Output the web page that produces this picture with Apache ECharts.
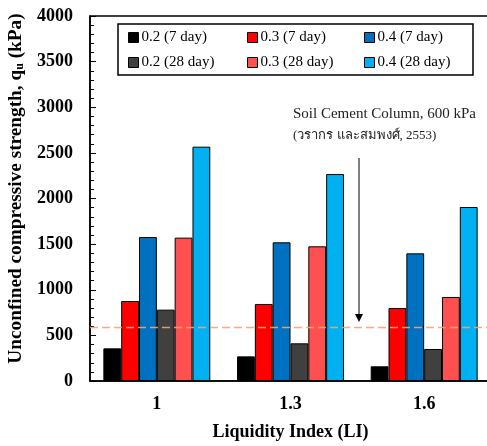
<!DOCTYPE html>
<html>
<head>
<meta charset="utf-8">
<script src="https://cdn.jsdelivr.net/npm/echarts@6/dist/echarts.min.js"></script>
<style>
html, body { margin: 0; padding: 0; background: #fff; }
#main { width: 487px; height: 446px; }
</style>
</head>
<body>
<div id="main"></div>
<script>
var categories = ['1', '1.3', '1.6'];
var c02d7 = [358, 270, 161];
var c03d7 = [877, 844, 800];
var c04d7 = [1578, 1520, 1399];
var c02d28 = [782, 413, 351];
var c03d28 = [1571, 1476, 921];
var c04d28 = [2568, 2268, 1907];
var refLine = 590;

var serif = '"Liberation Serif", "Times New Roman", serif';
var myChart = echarts.init(document.getElementById('main'));

function bar(name, data, color) {
    return {
        name: name,
        type: 'bar',
        data: data,
        barGap: 0,
        barCategoryGap: '20%',
        itemStyle: { color: color, borderColor: '#000', borderWidth: 1 }
    };
}

function legendCol(left, names) {
    return {
        orient: 'vertical',
        left: left,
        top: 30,
        padding: 0,
        itemGap: 10,
        itemWidth: 10,
        itemHeight: 10,
        icon: 'rect',
        selectedMode: false,
        textStyle: { fontFamily: serif, fontSize: 15, color: '#000', padding: [0, 0, 0, -2] },
        itemStyle: { borderColor: '#000', borderWidth: 1 },
        data: names
    };
}

var series = [
    bar('0.2 (7 day)', c02d7, '#000000'),
    bar('0.3 (7 day)', c03d7, '#FF0000'),
    bar('0.4 (7 day)', c04d7, '#0070C0'),
    bar('0.2 (28 day)', c02d28, '#404040'),
    bar('0.3 (28 day)', c03d28, '#FF5050'),
    bar('0.4 (28 day)', c04d28, '#00B0F0')
];
// reference line: soil cement column strength
series[5].markLine = {
    silent: true,
    symbol: 'none',
    z: 10,
    label: { show: false },
    lineStyle: { color: '#F5A46E', type: [8, 4], width: 1.3, opacity: 0.9 },
    emphasis: { disabled: true },
    data: [{ yAxis: refLine }]
};

var option = {
    animation: false,
    grid: {
        left: 90, top: 16, bottom: 65, right: -4,
        outerBoundsMode: 'none',
        containLabel: false,
        show: true, borderColor: '#000', borderWidth: 1.5, backgroundColor: 'transparent'
    },
    legend: [
        legendCol(128, ['0.2 (7 day)', '0.2 (28 day)']),
        legendCol(247, ['0.3 (7 day)', '0.3 (28 day)']),
        legendCol(364, ['0.4 (7 day)', '0.4 (28 day)'])
    ],
    xAxis: {
        type: 'category',
        data: categories,
        name: 'Liquidity Index (LI)',
        nameLocation: 'middle',
        nameGap: 42,
        nameTextStyle: { fontFamily: serif, fontWeight: 'bold', fontSize: 18, color: '#000' },
        axisLine: { lineStyle: { color: '#000', width: 1.5 } },
        axisTick: { inside: true, length: 5, lineStyle: { color: '#000' } },
        axisLabel: { margin: 14, fontFamily: serif, fontWeight: 'bold', fontSize: 18, color: '#000' }
    },
    yAxis: {
        type: 'value',
        min: 0,
        max: 4000,
        interval: 500,
        name: 'Unconfined compressive strength, q{sub|u} (kPa)',
        nameLocation: 'middle',
        nameGap: 59,
        nameTextStyle: {
            fontFamily: serif, fontWeight: 'bold', fontSize: 19.3, color: '#000',
            padding: [0, 0, 0, 20],
            rich: { sub: { fontFamily: serif, fontWeight: 'bold', fontSize: 12, verticalAlign: 'bottom', padding: [9, 0, 0, 0] } }
        },
        splitLine: { show: false },
        axisLine: { show: true, lineStyle: { color: '#000', width: 1.5 } },
        axisTick: { show: true, inside: true, length: 6, lineStyle: { color: '#000' } },
        minorTick: { show: true, splitNumber: 5, length: 4, lineStyle: { color: '#000' } },
        axisLabel: {
            margin: 17, fontFamily: serif, fontWeight: 'bold', fontSize: 18, color: '#000',
            formatter: function (v) { return String(v); }
        }
    },
    graphic: [
        { type: 'rect', shape: { x: 118, y: 24, width: 355, height: 51 }, style: { fill: 'none', stroke: '#000', lineWidth: 1.5 } },
        { type: 'text', left: 293, top: 107, style: { text: 'Soil Cement Column, 600 kPa', font: '15px ' + serif, fill: '#222' } },
        { type: 'text', left: 293, top: 129, style: { text: '(วรากร และสมพงศ์, 2553)', font: '13px ' + serif, fill: '#222' } },
        { type: 'line', shape: { x1: 359, y1: 158, x2: 359, y2: 316 }, style: { stroke: '#000', lineWidth: 1 } },
        { type: 'polygon', shape: { points: [[355, 314], [363, 314], [359, 322]] }, style: { fill: '#000' } }
    ],
    series: series
};
myChart.setOption(option);
</script>
</body>
</html>
